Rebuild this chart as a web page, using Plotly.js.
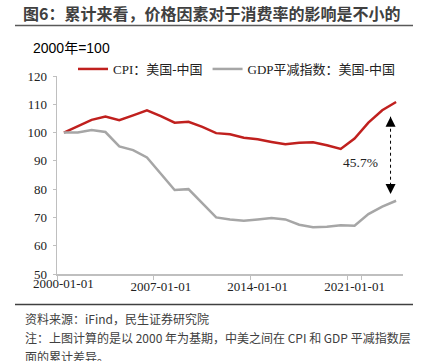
<!DOCTYPE html>
<html>
<head>
<meta charset="utf-8">
<script src="https://cdn.plot.ly/plotly-3.0.1.min.js"></script>
<style>html,body{margin:0;padding:0;background:#fff;}#chart{width:428px;height:361px;}</style>
</head>
<body>
<div id="chart"></div>
<script>
// ---- data ----
const years = [2000,2001,2002,2003,2004,2005,2006,2007,2008,2009,2010,2011,2012,2013,2014,2015,2016,2017,2018,2019,2020,2021,2022,2023,2024];
const cpiUsCn = [100,102.2,104.5,105.7,104.4,106.1,107.9,105.8,103.5,103.8,102.0,99.8,99.4,98.2,97.6,96.7,95.9,96.4,96.6,95.5,94.2,97.9,103.5,107.9,110.8];
const gdpDefUsCn = [100,100,100.9,100.2,95.1,93.8,91.2,85.4,79.7,80.0,74.9,70.0,69.3,68.8,69.3,69.8,69.3,67.4,66.5,66.7,67.2,67.1,71.2,73.8,75.9];
const xLabels = ['2000-01-01','2007-01-01','2014-01-01','2021-01-01'];
const yTicks = [50,60,70,80,90,100,110,120];
const seriesNames = ['CPI：美国-中国','GDP平减指数：美国-中国'];
const gapText = '45.7%';
const gapArrowX = 2023.6, gapArrowTop = 105.6, gapArrowBottom = 78.3;
const gapLabelX = 2021.4, gapLabelY = 89.35;

// category names built from years
const cats = years.map(y => y + '-01-01');

// ---- layout helpers ----
const W = 428, H = 361;
const M = {l:57, r:25, t:76, b:87, autoexpand:false};
const pw = W - M.l - M.r, ph = H - M.t - M.b;
const px2x = p => (p - M.l) / pw;
const py2y = p => (H - M.b - p) / ph;

const serif = 'Liberation Serif, "Noto Sans CJK SC", serif';
const sans = 'Liberation Sans, Arial, "Noto Sans CJK SC", sans-serif';
const cjk = '"Noto Sans CJK SC", sans-serif';
const tickFont = {family:serif, size:13, color:'#222'};
const xRangeNum = [years[0] - 0.5, years[years.length-1] + 0.5];

const traces = [
  {x: cats, y: cpiUsCn, name: seriesNames[0], type:'scatter', mode:'lines',
   line:{color:'#C0201E', width:2.5}, hoverinfo:'skip'},
  {x: cats, y: gdpDefUsCn, name: seriesNames[1], type:'scatter', mode:'lines',
   line:{color:'#A6A6A6', width:2.5}, hoverinfo:'skip'},
  {x:[gapArrowX, gapArrowX], y:[gapArrowTop, gapArrowBottom], xaxis:'x2', type:'scatter', mode:'lines+markers',
   line:{color:'#000', width:1, dash:'dot'},
   marker:{symbol:['arrow-up','arrow-down'], size:10, color:'#000'},
   showlegend:false, hoverinfo:'skip'}
];

const layout = {
  width: W, height: H,
  margin: M,
  paper_bgcolor:'#fff', plot_bgcolor:'#fff',
  showlegend: true,
  title: {text:'图6：累计来看，价格因素对于消费率的影响是不小的',
    font:{family:cjk, size:16, color:'#404040', weight:'bold'},
    xref:'container', yref:'container', x: 23/W, xanchor:'left', y: 1 - 14/H, yanchor:'middle'},
  legend: {orientation:'h', xref:'paper', yref:'paper', x: px2x(73), xanchor:'left',
    y: py2y(69), yanchor:'middle', font:{family:serif, size:13, color:'#222'},
    bgcolor:'rgba(0,0,0,0)', tracegroupgap:0, itemwidth:30},
  xaxis: {type:'category', range:[-0.5, years.length - 0.5], tickmode:'array', tickvals: xLabels,
    ticktext: xLabels.map((t, i) => i === 0 ? '' : t),
    tickson:'boundaries', ticks:'outside', ticklen:4, tickcolor:'#BFBFBF', tickangle:0,
    ticklabeloverflow:'allow', automargin:false,
    showline:true, linecolor:'#BFBFBF', linewidth:1.5,
    showgrid:false, zeroline:false, fixedrange:true, tickfont:tickFont},
  xaxis2: {overlaying:'x', anchor:'y', range:xRangeNum, visible:false},
  yaxis: {range:[50,120], tickvals:yTicks, ticks:'outside', ticklen:3, tickcolor:'#BFBFBF',
    showline:true, linecolor:'#BFBFBF', linewidth:1.5, showgrid:false, zeroline:false,
    ticklabeloverflow:'allow', automargin:false, tickfont:tickFont, ticklabelstandoff:3},
  shapes: [
    {type:'line', xref:'paper', yref:'paper', x0:px2x(15), x1:px2x(413), y0:py2y(25.5), y1:py2y(25.5),
     line:{color:'#595959', width:1.5}},
    {type:'line', xref:'paper', yref:'paper', x0:px2x(15), x1:px2x(413), y0:py2y(304.5), y1:py2y(304.5),
     line:{color:'#404040', width:1.5}}
  ],
  annotations: [
    // first x tick label (placed at the first year's category centre)
    {text:xLabels[0], xref:'x2', yref:'paper', x:years[0], y:py2y(283.5), xanchor:'center', yanchor:'middle',
     showarrow:false, font:tickFont},
    {text:'2000年=100', xref:'paper', yref:'paper', x:px2x(31), y:py2y(48), xanchor:'left', yanchor:'middle',
     showarrow:false, font:{family:sans, size:14, color:'#000'}},
    {text:gapText, xref:'x2', yref:'y', x:gapLabelX, y:gapLabelY, showarrow:false,
     font:{family:serif, size:13.5, color:'#222'}},
    {text:'资料来源：iFind，民生证券研究院', xref:'paper', yref:'paper', x:px2x(23), y:py2y(318), xanchor:'left', yanchor:'middle',
     showarrow:false, font:{family:cjk, size:12, color:'#404040'}},
    {text:'注：上图计算的是以 2000 年为基期，中美之间在 CPI 和 GDP 平减指数层', xref:'paper', yref:'paper', x:px2x(23), y:py2y(337), xanchor:'left', yanchor:'middle',
     showarrow:false, font:{family:cjk, size:12, color:'#404040'}},
    {text:'面的累计差异。', xref:'paper', yref:'paper', x:px2x(23), y:py2y(356), xanchor:'left', yanchor:'middle',
     showarrow:false, font:{family:cjk, size:12, color:'#404040'}}
  ]
};

Plotly.newPlot('chart', traces, layout, {staticPlot:true, displayModeBar:false});
</script>
</body>
</html>
